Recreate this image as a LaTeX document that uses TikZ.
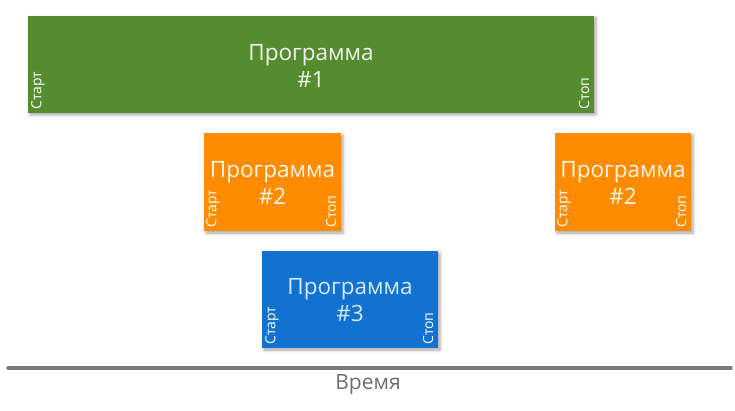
\documentclass[tikz,border=0pt]{standalone}
\usepackage{fontspec}
\setmainfont{Open Sans}
\usetikzlibrary{shadows.blur,calc}
\definecolor{pgreen}{HTML}{548C2F}
\definecolor{porange}{HTML}{FF8C00}
\definecolor{pblue}{HTML}{1172D2}
\definecolor{lineg}{HTML}{7A7A7A}
\definecolor{txtg}{HTML}{6E6E6E}
\tikzset{
  x=1pt,y=1pt,
  prog/.style={anchor=north west, inner sep=0pt, outer sep=0pt, draw=none,
    blur shadow={shadow xshift=2pt, shadow yshift=-2pt, shadow blur radius=3pt, shadow opacity=35}},
  title/.style={align=center, font=\fontsize{22.5}{27.5}\selectfont},
  edge/.style={rotate=90, anchor=west, inner sep=0pt, text=white, font=\fontsize{14}{16}\selectfont}
}
\begin{document}
\begin{tikzpicture}
\useasboundingbox (0,0) rectangle (735,-411);
% Program 1
\node[prog, fill=pgreen, minimum width=566, minimum height=97] (p1) at (28,-16) {};
\node[title, text=white!92!pgreen] (t1) at (311,-66) {Программа\\\#1};
\node[edge] (s1) at ($(p1.south west)+(10,3)$) {Старт};
\node[edge] (e1) at ($(p1.south east)+(-10,3)$) {Стоп};
% Program 2a
\node[prog, fill=porange, minimum width=137, minimum height=98] (p2) at (204,-133) {};
\node[title, text=white!92!porange] (t2) at (272.5,-183) {Программа\\\#2};
\node[edge] (s2) at ($(p2.south west)+(9,3)$) {Старт};
\node[edge] (e2) at ($(p2.south east)+(-10,3)$) {Стоп};
% Program 2b
\node[prog, fill=porange, minimum width=136, minimum height=98] (p3) at (555,-133) {};
\node[title, text=white!92!porange] (t3) at (623,-183) {Программа\\\#2};
\node[edge] (s3) at ($(p3.south west)+(9,3)$) {Старт};
\node[edge] (e3) at ($(p3.south east)+(-10,3)$) {Стоп};
% Program 3
\node[prog, fill=pblue, minimum width=176, minimum height=97] (p4) at (262,-251) {};
\node[title, text=white!85!pblue] (t4) at (350,-300) {Программа\\\#3};
\node[edge] (s4) at ($(p4.south west)+(10,3)$) {Старт};
\node[edge] (e4) at ($(p4.south east)+(-10,3)$) {Стоп};
% Time axis
\coordinate (a0) at (8,-368);
\coordinate (a1) at (731,-368);
\draw[lineg, line width=3.5pt, line cap=round] (a0) -- (a1);
\node[text=txtg, font=\fontsize{21}{24}\selectfont] (time) at (368,-385) {Время};
\end{tikzpicture}
\end{document}
